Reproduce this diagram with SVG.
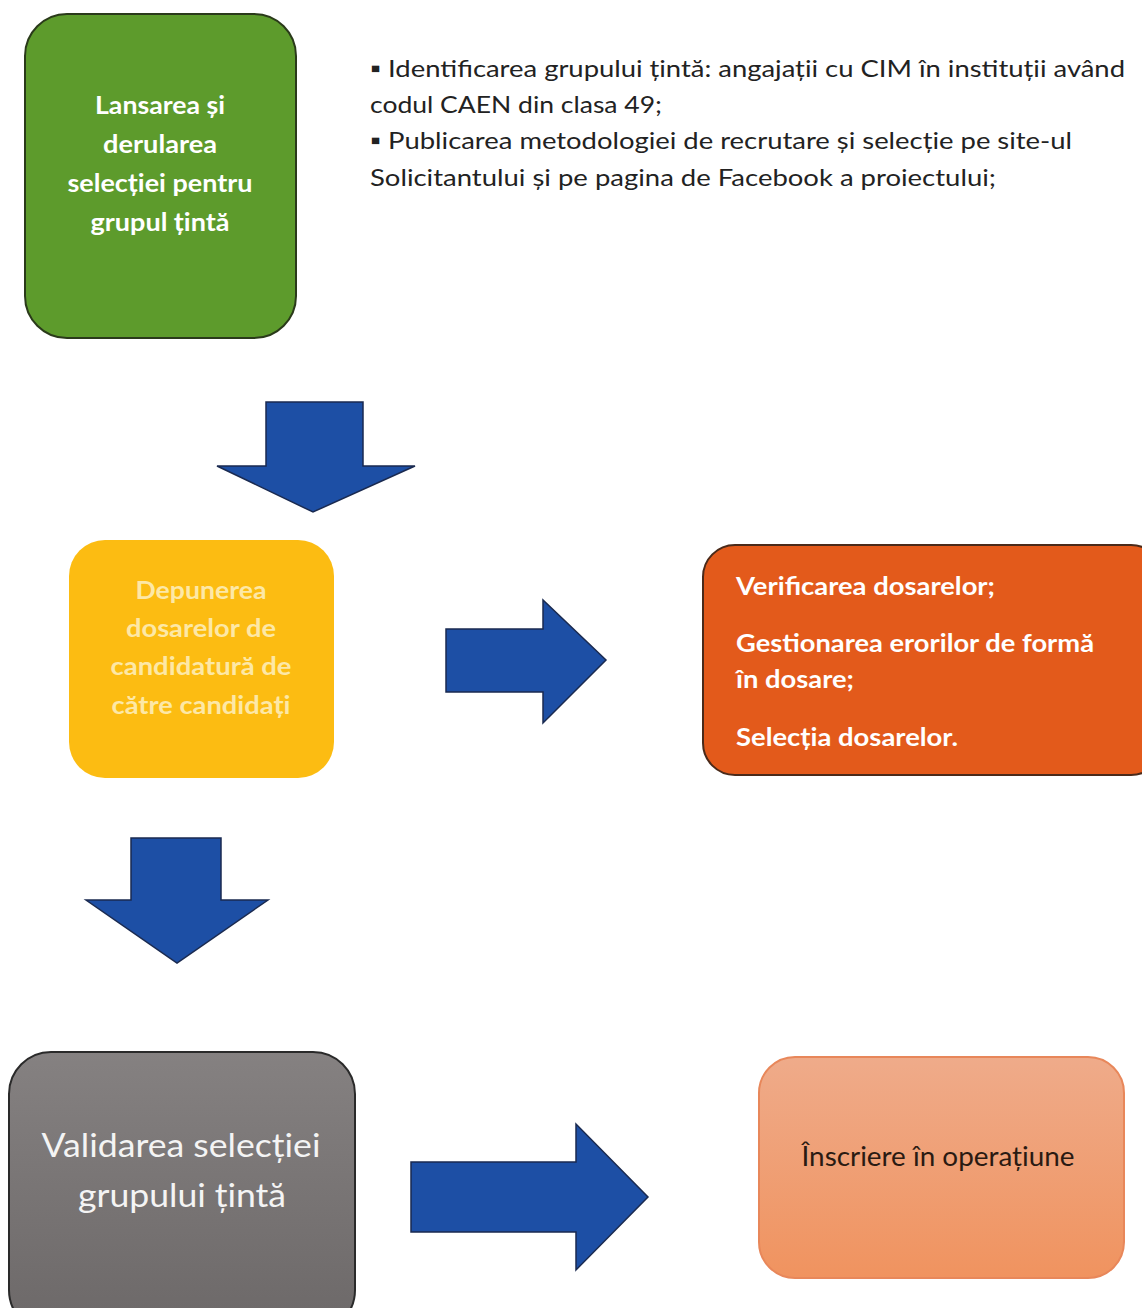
<svg xmlns="http://www.w3.org/2000/svg" width="1142" height="1308" viewBox="0 0 1142 1308">
<defs>
<style>
.t{font-family:Lato,"Open Sans","Liberation Sans",sans-serif}
.w{fill:#ffffff;font-weight:bold;font-size:24px}
.arrow{fill:#1d4fa5;stroke:#1a2a50;stroke-width:1.5}
</style>
<linearGradient id="gy" x1="0" y1="0" x2="0" y2="1"><stop offset="0" stop-color="#858181"/><stop offset="1" stop-color="#6c6868"/></linearGradient>
<linearGradient id="gp" x1="0" y1="0" x2="0" y2="1"><stop offset="0" stop-color="#efab8a"/><stop offset="1" stop-color="#f0935f"/></linearGradient>
</defs>
<rect width="1142" height="1308" fill="#ffffff"/>
<g id="n1">
<rect x="25" y="14" width="271" height="324" rx="42" fill="#5d9b2c" stroke="#2a3a1a" stroke-width="2"/>
<g class="t w" text-anchor="middle">
<text x="160" y="114" textLength="130" lengthAdjust="spacingAndGlyphs">Lansarea și</text>
<text x="160" y="153" textLength="114" lengthAdjust="spacingAndGlyphs">derularea</text>
<text x="160" y="192" textLength="185" lengthAdjust="spacingAndGlyphs">selecției pentru</text>
<text x="160" y="231" textLength="139" lengthAdjust="spacingAndGlyphs">grupul țintă</text>
</g>
</g>
<g id="note" class="t" fill="#222222" font-size="24">
<text x="370" y="77" textLength="755" lengthAdjust="spacingAndGlyphs">▪ Identificarea grupului țintă: angajații cu CIM în instituții având</text>
<text x="370" y="113" textLength="292" lengthAdjust="spacingAndGlyphs">codul CAEN din clasa 49;</text>
<text x="370" y="149" textLength="702" lengthAdjust="spacingAndGlyphs">▪ Publicarea metodologiei de recrutare și selecție pe site-ul</text>
<text x="370" y="186" textLength="626" lengthAdjust="spacingAndGlyphs">Solicitantului și pe pagina de Facebook a proiectului;</text>
</g>
<g id="n2">
<rect x="69" y="540" width="265" height="238" rx="36" fill="#fcbc12"/>
<g class="t" fill="#fde8a6" font-size="24" font-weight="bold" text-anchor="middle">
<text x="201" y="599" textLength="131" lengthAdjust="spacingAndGlyphs">Depunerea</text>
<text x="201" y="637" textLength="150" lengthAdjust="spacingAndGlyphs">dosarelor de</text>
<text x="201" y="675" textLength="181" lengthAdjust="spacingAndGlyphs">candidatură de</text>
<text x="201" y="714" textLength="179" lengthAdjust="spacingAndGlyphs">către candidați</text>
</g>
</g>
<g id="n3">
<rect x="703" y="545" width="460" height="230" rx="32" fill="#e35a1b" stroke="#4a2a1a" stroke-width="2"/>
<g class="t w">
<text x="736" y="595" textLength="259" lengthAdjust="spacingAndGlyphs">Verificarea dosarelor;</text>
<text x="736" y="652" textLength="358" lengthAdjust="spacingAndGlyphs">Gestionarea erorilor de formă</text>
<text x="736" y="688" textLength="118" lengthAdjust="spacingAndGlyphs">în dosare;</text>
<text x="736" y="746" textLength="222" lengthAdjust="spacingAndGlyphs">Selecția dosarelor.</text>
</g>
</g>
<g id="n4">
<rect x="9" y="1052" width="346" height="280" rx="42" fill="url(#gy)" stroke="#2a2a2a" stroke-width="2"/>
<g class="t" fill="#f4f4f4" font-size="32" text-anchor="middle">
<text x="181" y="1157" textLength="279" lengthAdjust="spacingAndGlyphs">Validarea selecției</text>
<text x="182" y="1207" textLength="208" lengthAdjust="spacingAndGlyphs">grupului țintă</text>
</g>
</g>
<g id="n5">
<rect x="759" y="1057" width="365" height="221" rx="36" fill="url(#gp)" stroke="#e8875a" stroke-width="2"/>
<text class="t" x="938" y="1166" fill="#2a1a12" font-size="26" text-anchor="middle" textLength="273" lengthAdjust="spacingAndGlyphs">Înscriere în operațiune</text>
</g>
<g id="connectors">
<polygon class="arrow" points="266,402 363,402 363,466 415,466 313,512 217,466 266,466"/>
<polygon class="arrow" points="446,629 543,629 543,600 606,660 543,723 543,692 446,692"/>
<polygon class="arrow" points="131,838 221,838 221,900 268,900 177,963 86,900 131,900"/>
<polygon class="arrow" points="411,1162 576,1162 576,1124 648,1197 576,1270 576,1232 411,1232"/>
</g>
</svg>
